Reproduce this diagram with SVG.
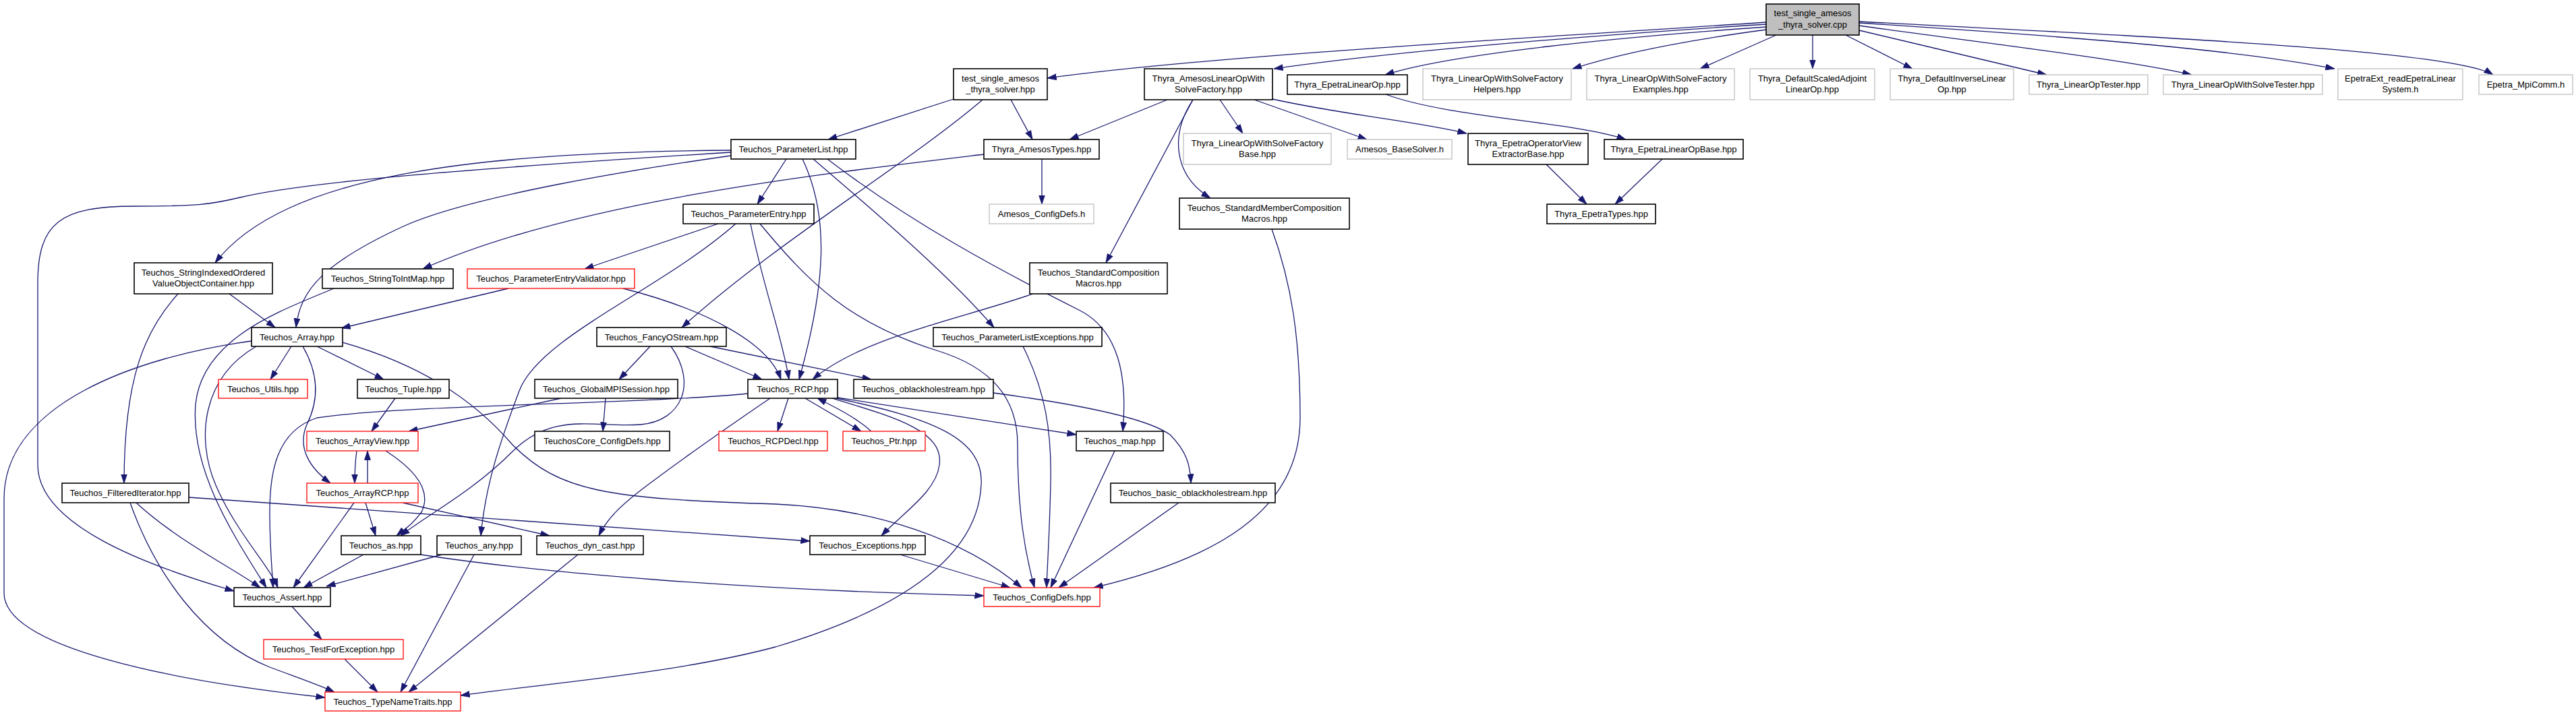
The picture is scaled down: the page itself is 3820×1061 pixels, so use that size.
<svg xmlns="http://www.w3.org/2000/svg" width="3820" height="1061" viewBox="0 0 3820 1061">
<style>
.n rect{fill:#fff;stroke:#000;stroke-width:1.6}
.n.g rect{stroke:#bfbfbf;stroke-width:1.3}
.n.r rect{stroke:#ff0000;stroke-width:1.3}
.n.root rect{fill:#bfbfbf}
text{font-family:"Liberation Sans",Arial,sans-serif;font-size:13px;text-anchor:middle;fill:#000}
#edges path{fill:none;stroke:#191970;stroke-width:1.3;marker-end:url(#a)}
</style>
<defs>
<marker id="a" markerWidth="14" markerHeight="10" refX="13.5" refY="5" orient="auto" markerUnits="userSpaceOnUse"><path d="M0,0.5 L13.5,5 L0,9.5 z" fill="#191970" stroke="#191970" stroke-width="0.8"/></marker>
</defs>
<rect width="3820" height="1061" fill="#fff"/>
<g id="edges">
<path d="M2619,33 C2300,55 1800,82 1553,116"/>
<path d="M2619,36 C2400,50 2100,72 1889,102"/>
<path d="M2619,40 C2400,55 2150,80 2054,111"/>
<path d="M2619,44 C2500,60 2400,80 2332,102"/>
<path d="M2634,52 L2521,102"/>
<path d="M2688,52 L2688,102"/>
<path d="M2737,52 L2836,102"/>
<path d="M2757,45 L3035,111"/>
<path d="M2757,38 C2950,65 3150,88 3250,111"/>
<path d="M2757,34 C3000,50 3300,70 3462,102"/>
<path d="M2757,32 C3200,55 3640,75 3697,111"/>
<path d="M1414,147 L1228,207"/>
<path d="M1499,148 L1531,207"/>
<path d="M1457,148 C1350,240 1150,360 1011,486"/>
<path d="M1731,148 L1586,207"/>
<path d="M1769,148 L1640,390"/>
<path d="M1769,148 C1735,200 1740,260 1795,294"/>
<path d="M1809,148 L1843,198"/>
<path d="M1860,148 L2027,207"/>
<path d="M1887,147 C1990,170 2100,180 2175,198"/>
<path d="M2055,140 C2150,175 2330,180 2411,207"/>
<path d="M2293,244 L2353,303"/>
<path d="M2465,236 L2395,303"/>
<path d="M1545,236 L1545,303"/>
<path d="M1459,229 C1200,260 850,300 627,399"/>
<path d="M340,436 L408,486"/>
<path d="M264,436 C215,490 184,560 184,717"/>
<path d="M1084,223 C700,226 420,260 319,390"/>
<path d="M1084,226 C700,250 450,270 356,293 C310,304 290,306 200,306 C90,306 56,330 56,420 L56,690 C56,780 220,840 347,877"/>
<path d="M1084,231 C950,250 700,290 600,335 C480,390 445,430 439,486"/>
<path d="M1166,236 L1123,303"/>
<path d="M1190,236 C1230,320 1225,420 1185,563"/>
<path d="M1206,236 C1280,300 1400,400 1474,486"/>
<path d="M1227,236 C1350,330 1480,400 1600,460 C1660,490 1672,560 1665,640"/>
<path d="M1065,332 L867,399"/>
<path d="M1091,332 C980,430 800,500 770,580 C740,660 720,720 713,795"/>
<path d="M1113,332 C1130,420 1160,500 1170,563"/>
<path d="M1127,332 C1200,420 1260,480 1389,520 C1470,545 1509,590 1509,660 C1509,760 1520,820 1534,872"/>
<path d="M754,428 L506,487"/>
<path d="M924,428 C1050,460 1140,510 1158,563"/>
<path d="M495,428 C420,460 300,500 290,600 C282,700 350,800 395,872"/>
<path d="M373,506 C200,530 6,600 6,740 L6,880 C6,960 250,1010 482,1035"/>
<path d="M380,514 C300,560 290,650 320,720 C350,790 400,840 412,872"/>
<path d="M432,514 L401,563"/>
<path d="M449,514 C470,550 475,590 455,630 C440,665 460,695 490,717"/>
<path d="M470,514 L569,563"/>
<path d="M508,508 C620,540 700,590 760,660 C830,730 900,740 1150,748 C1300,755 1430,800 1515,872"/>
<path d="M586,591 L551,640"/>
<path d="M832,591 L606,640"/>
<path d="M898,591 L894,640"/>
<path d="M964,514 L918,563"/>
<path d="M995,514 C1035,570 1010,625 950,630 C880,635 820,610 760,670 C700,730 640,760 594,795"/>
<path d="M1016,514 L1130,563"/>
<path d="M1053,514 L1292,563"/>
<path d="M1517,514 C1550,580 1560,640 1558,720 C1556,800 1553,840 1552,872"/>
<path d="M1532,436 C1420,475 1280,500 1205,563"/>
<path d="M1886,340 C1915,420 1928,500 1928,620 C1928,760 1800,830 1622,872"/>
<path d="M1109,584 C950,600 600,600 470,620 C410,640 400,700 400,760 C400,810 403,840 405,872"/>
<path d="M1169,591 L1153,640"/>
<path d="M1194,591 L1277,640"/>
<path d="M1292,640 C1270,620 1240,605 1212,591"/>
<path d="M1234,591 C1330,620 1400,640 1393,690 C1388,730 1340,760 1307,795"/>
<path d="M1240,591 C1380,620 1460,650 1455,720 C1450,820 1350,900 1150,960 C1000,1000 800,1015 683,1032"/>
<path d="M1242,590 L1596,645"/>
<path d="M1142,591 C1070,640 1000,690 960,720 C920,750 900,770 888,795"/>
<path d="M1473,583 C1600,600 1700,620 1735,645 C1760,670 1765,690 1766,717"/>
<path d="M1653,669 L1558,872"/>
<path d="M1748,746 L1570,872"/>
<path d="M1335,823 L1498,872"/>
<path d="M529,669 C526,690 526,700 526,717"/>
<path d="M572,669 C620,700 640,730 625,760 C610,780 600,785 588,795"/>
<path d="M545,717 L545,669"/>
<path d="M525,746 L435,872"/>
<path d="M542,746 L557,795"/>
<path d="M597,746 L815,795"/>
<path d="M202,746 C260,800 340,840 386,872"/>
<path d="M193,746 C230,850 300,950 400,990 C440,1005 470,1015 496,1027"/>
<path d="M280,738 L1201,803"/>
<path d="M539,823 L450,872"/>
<path d="M624,823 C800,850 1100,875 1459,884"/>
<path d="M655,823 L484,870"/>
<path d="M703,823 L594,1027"/>
<path d="M857,823 L606,1027"/>
<path d="M433,900 L477,949"/>
<path d="M511,978 L560,1027"/>
</g>
<g id="root" class="n root"><rect x="2619" y="6" width="138" height="46"/><text x="2688" y="24">test_single_amesos</text><text x="2688" y="40.5">_thyra_solver.cpp</text></g>
<g id="test_hpp" class="n"><rect x="1414" y="102" width="139" height="46"/><text x="1483.5" y="120.5">test_single_amesos</text><text x="1483.5" y="137">_thyra_solver.hpp</text></g>
<g id="amesos_lowsf" class="n"><rect x="1697" y="102" width="190" height="46"/><text x="1792" y="120.5">Thyra_AmesosLinearOpWith</text><text x="1792" y="137">SolveFactory.hpp</text></g>
<g id="epetra_lo" class="n"><rect x="1909" y="111" width="178" height="29"/><text x="1998" y="130">Thyra_EpetraLinearOp.hpp</text></g>
<g id="lowsf_helpers" class="n g"><rect x="2110" y="102" width="220" height="46"/><text x="2220" y="120.5">Thyra_LinearOpWithSolveFactory</text><text x="2220" y="137">Helpers.hpp</text></g>
<g id="lowsf_examples" class="n g"><rect x="2353" y="102" width="219" height="46"/><text x="2462.5" y="120.5">Thyra_LinearOpWithSolveFactory</text><text x="2462.5" y="137">Examples.hpp</text></g>
<g id="dsalo" class="n g"><rect x="2595" y="102" width="185" height="46"/><text x="2687.5" y="120.5">Thyra_DefaultScaledAdjoint</text><text x="2687.5" y="137">LinearOp.hpp</text></g>
<g id="dilo" class="n g"><rect x="2803" y="102" width="183" height="46"/><text x="2894.5" y="120.5">Thyra_DefaultInverseLinear</text><text x="2894.5" y="137">Op.hpp</text></g>
<g id="lo_tester" class="n g"><rect x="3009" y="111" width="176" height="29"/><text x="3097" y="130">Thyra_LinearOpTester.hpp</text></g>
<g id="lows_tester" class="n g"><rect x="3208" y="111" width="236" height="29"/><text x="3326" y="130">Thyra_LinearOpWithSolveTester.hpp</text></g>
<g id="epetraext" class="n g"><rect x="3467" y="102" width="185" height="46"/><text x="3559.5" y="120.5">EpetraExt_readEpetraLinear</text><text x="3559.5" y="137">System.h</text></g>
<g id="mpicomm" class="n g"><rect x="3676" y="111" width="139" height="29"/><text x="3745.5" y="130">Epetra_MpiComm.h</text></g>
<g id="param_list" class="n"><rect x="1084" y="207" width="185" height="29"/><text x="1176.5" y="226">Teuchos_ParameterList.hpp</text></g>
<g id="amesos_types" class="n"><rect x="1459" y="207" width="171" height="29"/><text x="1544.5" y="226">Thyra_AmesosTypes.hpp</text></g>
<g id="lowsf_base" class="n g"><rect x="1755" y="198" width="219" height="46"/><text x="1864.5" y="216.5">Thyra_LinearOpWithSolveFactory</text><text x="1864.5" y="233">Base.hpp</text></g>
<g id="amesos_basesolver" class="n g"><rect x="1998" y="207" width="155" height="29"/><text x="2075.5" y="226">Amesos_BaseSolver.h</text></g>
<g id="eove_base" class="n"><rect x="2177" y="198" width="178" height="46"/><text x="2266" y="216.5">Thyra_EpetraOperatorView</text><text x="2266" y="233">ExtractorBase.hpp</text></g>
<g id="elo_base" class="n"><rect x="2379" y="207" width="206" height="29"/><text x="2482" y="226">Thyra_EpetraLinearOpBase.hpp</text></g>
<g id="param_entry" class="n"><rect x="1013" y="303" width="194" height="29"/><text x="1110" y="322">Teuchos_ParameterEntry.hpp</text></g>
<g id="amesos_configdefs" class="n g"><rect x="1467" y="303" width="155" height="29"/><text x="1544.5" y="322">Amesos_ConfigDefs.h</text></g>
<g id="smcm" class="n"><rect x="1749" y="294" width="252" height="46"/><text x="1875" y="312.5">Teuchos_StandardMemberComposition</text><text x="1875" y="329">Macros.hpp</text></g>
<g id="epetra_types" class="n"><rect x="2294" y="303" width="161" height="29"/><text x="2374.5" y="322">Thyra_EpetraTypes.hpp</text></g>
<g id="siovoc" class="n"><rect x="199" y="390" width="205" height="46"/><text x="301.5" y="408.5">Teuchos_StringIndexedOrdered</text><text x="301.5" y="425">ValueObjectContainer.hpp</text></g>
<g id="stim" class="n"><rect x="478" y="399" width="194" height="29"/><text x="575" y="418">Teuchos_StringToIntMap.hpp</text></g>
<g id="pev" class="n r"><rect x="693" y="399" width="248" height="29"/><text x="817" y="418">Teuchos_ParameterEntryValidator.hpp</text></g>
<g id="scm" class="n"><rect x="1527" y="390" width="204" height="46"/><text x="1629" y="408.5">Teuchos_StandardComposition</text><text x="1629" y="425">Macros.hpp</text></g>
<g id="array" class="n"><rect x="373" y="486" width="135" height="28"/><text x="440.5" y="504.5">Teuchos_Array.hpp</text></g>
<g id="fancyostream" class="n"><rect x="885" y="486" width="192" height="28"/><text x="981" y="504.5">Teuchos_FancyOStream.hpp</text></g>
<g id="ple" class="n"><rect x="1384" y="486" width="250" height="28"/><text x="1509" y="504.5">Teuchos_ParameterListExceptions.hpp</text></g>
<g id="utils" class="n r"><rect x="324" y="563" width="132" height="28"/><text x="390" y="581.5">Teuchos_Utils.hpp</text></g>
<g id="tuple" class="n"><rect x="530" y="563" width="136" height="28"/><text x="598" y="581.5">Teuchos_Tuple.hpp</text></g>
<g id="gmpi" class="n"><rect x="793" y="563" width="212" height="28"/><text x="899" y="581.5">Teuchos_GlobalMPISession.hpp</text></g>
<g id="rcp" class="n"><rect x="1109" y="563" width="133" height="28"/><text x="1175.5" y="581.5">Teuchos_RCP.hpp</text></g>
<g id="oblackhole" class="n"><rect x="1266" y="563" width="207" height="28"/><text x="1369.5" y="581.5">Teuchos_oblackholestream.hpp</text></g>
<g id="arrayview" class="n r"><rect x="455" y="640" width="165" height="29"/><text x="537.5" y="659">Teuchos_ArrayView.hpp</text></g>
<g id="tc_configdefs" class="n"><rect x="793" y="640" width="200" height="29"/><text x="893" y="659">TeuchosCore_ConfigDefs.hpp</text></g>
<g id="rcpdecl" class="n r"><rect x="1066" y="640" width="161" height="29"/><text x="1146.5" y="659">Teuchos_RCPDecl.hpp</text></g>
<g id="ptr" class="n r"><rect x="1250" y="640" width="122" height="29"/><text x="1311" y="659">Teuchos_Ptr.hpp</text></g>
<g id="map" class="n"><rect x="1596" y="640" width="129" height="29"/><text x="1660.5" y="659">Teuchos_map.hpp</text></g>
<g id="filtered" class="n"><rect x="92" y="717" width="188" height="29"/><text x="186" y="736">Teuchos_FilteredIterator.hpp</text></g>
<g id="arrayrcp" class="n r"><rect x="455" y="717" width="165" height="29"/><text x="537.5" y="736">Teuchos_ArrayRCP.hpp</text></g>
<g id="basic_oblackhole" class="n"><rect x="1647" y="717" width="244" height="29"/><text x="1769" y="736">Teuchos_basic_oblackholestream.hpp</text></g>
<g id="as" class="n"><rect x="506" y="795" width="118" height="28"/><text x="565" y="813.5">Teuchos_as.hpp</text></g>
<g id="any" class="n"><rect x="648" y="795" width="125" height="28"/><text x="710.5" y="813.5">Teuchos_any.hpp</text></g>
<g id="dyn_cast" class="n"><rect x="796" y="795" width="158" height="28"/><text x="875" y="813.5">Teuchos_dyn_cast.hpp</text></g>
<g id="exceptions" class="n"><rect x="1201" y="795" width="171" height="28"/><text x="1286.5" y="813.5">Teuchos_Exceptions.hpp</text></g>
<g id="assert" class="n"><rect x="347" y="872" width="143" height="28"/><text x="418.5" y="890.5">Teuchos_Assert.hpp</text></g>
<g id="configdefs" class="n r"><rect x="1459" y="872" width="172" height="28"/><text x="1545" y="890.5">Teuchos_ConfigDefs.hpp</text></g>
<g id="tfe" class="n r"><rect x="391" y="949" width="207" height="29"/><text x="494.5" y="968">Teuchos_TestForException.hpp</text></g>
<g id="tnt" class="n r"><rect x="482" y="1027" width="201" height="28"/><text x="582.5" y="1045.5">Teuchos_TypeNameTraits.hpp</text></g>
</svg>
